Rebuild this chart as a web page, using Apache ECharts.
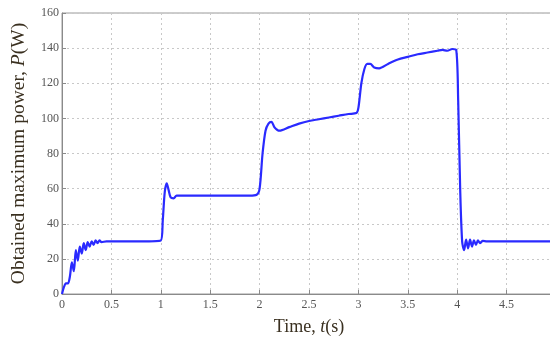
<!DOCTYPE html>
<html>
<head>
<meta charset="utf-8">
<script src="https://cdn.jsdelivr.net/npm/echarts@6/dist/echarts.min.js"></script>
<style>html,body{margin:0;padding:0;background:#fff;overflow:hidden;}#c{width:550px;height:338px;}</style>
</head>
<body>
<div id="c"></div>
<script>
const timeVals = [0, 0.02, 0.04, 0.06, 0.08, 0.10, 0.12, 0.14, 0.16, 0.18, 0.20, 0.22, 0.24, 0.26, 0.28, 0.30, 0.32, 0.34, 0.36, 0.38, 0.40, 0.45, 0.5, 0.6, 0.8, 1.0, 1.02, 1.04, 1.06, 1.08, 1.10, 1.13, 1.16, 1.2, 1.5, 1.9, 1.97, 2.0, 2.03, 2.06, 2.09, 2.12, 2.15, 2.2, 2.3, 2.4, 2.5, 2.6, 2.7, 2.8, 2.9, 2.98, 3.0, 3.03, 3.06, 3.09, 3.12, 3.16, 3.21, 3.3, 3.4, 3.5, 3.6, 3.7, 3.8, 3.85, 3.9, 3.95, 3.99, 4.01, 4.03, 4.05, 4.07, 4.09, 4.11, 4.13, 4.15, 4.17, 4.19, 4.21, 4.23, 4.26, 4.3, 4.4, 5.0];
const powerVals = [0, 4, 6, 6, 10, 18, 13, 25, 19, 27, 23, 29, 25, 29.5, 27, 30, 28, 30.5, 29, 30.5, 29.5, 30, 30, 30, 30, 30.5, 42, 58, 63, 59, 55, 54.5, 56, 56, 56, 56, 56.5, 60, 80, 93, 97, 98, 95, 93, 95, 97, 98.5, 99.5, 100.5, 101.5, 102.5, 103, 106, 120, 128, 131, 131, 129, 128.5, 131, 133.5, 135, 136.5, 137.5, 138.5, 139, 138.5, 139.5, 139, 110, 60, 30, 25, 31, 26, 31, 27, 30.5, 28, 30.5, 29, 30.2, 30, 30, 30];
const xTicks = [0, 0.5, 1, 1.5, 2, 2.5, 3, 3.5, 4, 4.5, 5];
const yTicks = [0, 20, 40, 60, 80, 100, 120, 140, 160];
const xTitle = 'Time, {i|t}(s)';
const yTitle = 'Obtained maximum power, {i|P}(W)';

const chart = echarts.init(document.getElementById('c'), null, {renderer: 'canvas'});
const font = '"Liberation Serif", "Times New Roman", serif';
const data = timeVals.map((t, i) => [t, powerVals[i]]);
chart.setOption({
  animation: false,
  backgroundColor: '#fff',
  grid: {left: 62, top: 13, width: 494, height: 281, outerBoundsMode: 'none', containLabel: false,
    show: true, borderColor: '#9a9a9a', borderWidth: 1},
  xAxis: {
    type: 'value', min: xTicks[0], max: xTicks[xTicks.length - 1], interval: 0.5,
    axisLine: {show: true, lineStyle: {color: '#8a8a8a', width: 1}},
    axisTick: {show: true, inside: true, length: 4, lineStyle: {color: '#8a8a8a'}},
    axisLabel: {fontFamily: font, fontSize: 12, color: '#555', margin: 5,
      formatter: v => xTicks.includes(v) ? String(v) : ''},
    splitLine: {show: true, lineStyle: {color: '#c8c8c8', type: [2, 3], width: 1}},
    name: xTitle, nameLocation: 'middle', nameGap: 24,
    nameTextStyle: {fontFamily: font, fontSize: 18, color: '#3a3020',
      rich: {i: {fontFamily: font, fontSize: 18, fontStyle: 'italic', color: '#3a3020'}}}
  },
  yAxis: {
    type: 'value', min: yTicks[0], max: yTicks[yTicks.length - 1], interval: 20,
    axisLine: {show: true, lineStyle: {color: '#8a8a8a', width: 1}},
    axisTick: {show: true, inside: true, length: 4, lineStyle: {color: '#8a8a8a'}},
    axisLabel: {fontFamily: font, fontSize: 12, color: '#555', margin: 3},
    splitLine: {show: true, lineStyle: {color: '#c8c8c8', type: [2, 3], width: 1}},
    name: yTitle, nameLocation: 'middle', nameGap: 33,
    nameTextStyle: {fontFamily: font, fontSize: 19.5, color: '#3a3020',
      rich: {i: {fontFamily: font, fontSize: 19.5, fontStyle: 'italic', color: '#3a3020'}}}
  },
  series: [{
    type: 'line', data: data, showSymbol: false, smooth: 0.3,
    lineStyle: {color: '#2a2aff', width: 2.2}
  }]
});
</script>
</body>
</html>
